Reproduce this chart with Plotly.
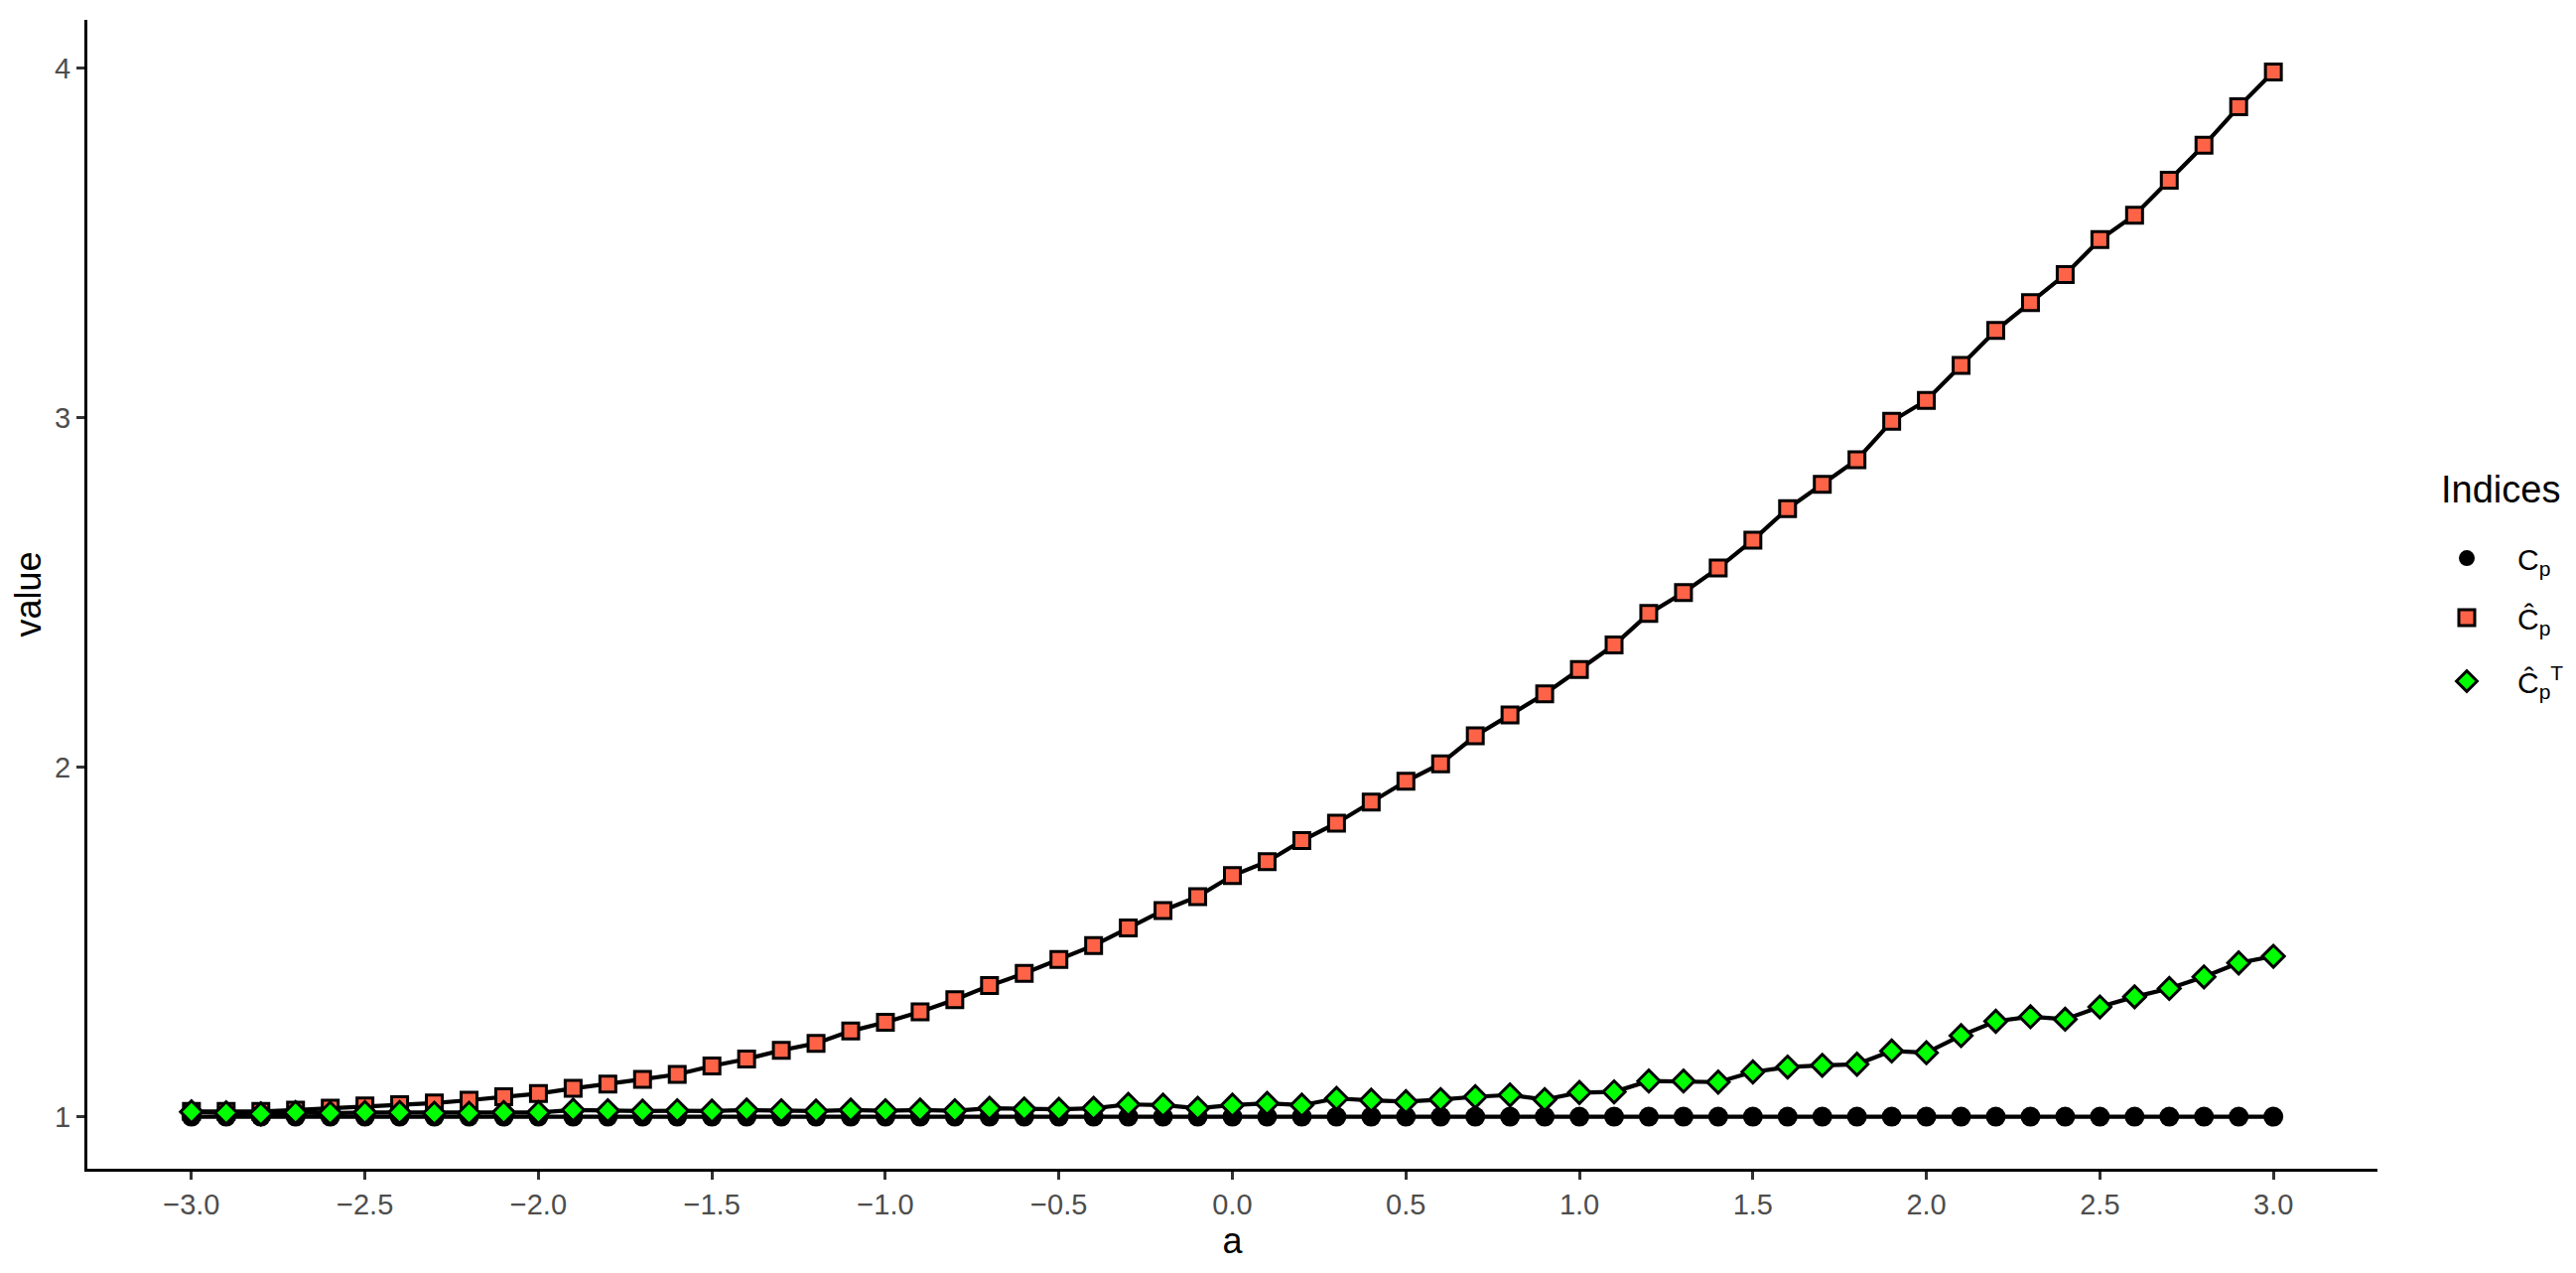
import plotly.graph_objects as go

a_vals = [-3.0, -2.9, -2.8, -2.7, -2.6, -2.5, -2.4, -2.3, -2.2, -2.1,
          -2.0, -1.9, -1.8, -1.7, -1.6, -1.5, -1.4, -1.3, -1.2, -1.1,
          -1.0, -0.9, -0.8, -0.7, -0.6, -0.5, -0.4, -0.3, -0.2, -0.1,
          0.0, 0.1, 0.2, 0.3, 0.4, 0.5, 0.6, 0.7, 0.8, 0.9,
          1.0, 1.1, 1.2, 1.3, 1.4, 1.5, 1.6, 1.7, 1.8, 1.9,
          2.0, 2.1, 2.2, 2.3, 2.4, 2.5, 2.6, 2.7, 2.8, 2.9, 3.0]

cp = [1.0, 1.0, 1.0, 1.0, 1.0, 1.0, 1.0, 1.0, 1.0, 1.0,
      1.0, 1.0, 1.0, 1.0, 1.0, 1.0, 1.0, 1.0, 1.0, 1.0,
      1.0, 1.0, 1.0, 1.0, 1.0, 1.0, 1.0, 1.0, 1.0, 1.0,
      1.0, 1.0, 1.0, 1.0, 1.0, 1.0, 1.0, 1.0, 1.0, 1.0,
      1.0, 1.0, 1.0, 1.0, 1.0, 1.0, 1.0, 1.0, 1.0, 1.0,
      1.0, 1.0, 1.0, 1.0, 1.0, 1.0, 1.0, 1.0, 1.0, 1.0, 1.0]

cp_hat = [1.015, 1.015, 1.015, 1.019, 1.024, 1.031, 1.034, 1.039, 1.047, 1.057,
          1.066, 1.081, 1.093, 1.107, 1.121, 1.145, 1.165, 1.19, 1.21, 1.245,
          1.27, 1.30, 1.335, 1.375, 1.41, 1.45, 1.49, 1.54, 1.59, 1.63,
          1.69, 1.73, 1.79, 1.84, 1.90, 1.96, 2.01, 2.09, 2.15, 2.21,
          2.28, 2.35, 2.44, 2.50, 2.57, 2.65, 2.74, 2.81, 2.88, 2.99,
          3.05, 3.15, 3.25, 3.33, 3.41, 3.51, 3.58, 3.68, 3.78, 3.89, 3.99]

cp_hat_t = [1.014, 1.011, 1.008, 1.012, 1.010, 1.012, 1.012, 1.010, 1.010, 1.012,
            1.012, 1.019, 1.017, 1.016, 1.017, 1.016, 1.019, 1.017, 1.016, 1.019,
            1.017, 1.019, 1.017, 1.024, 1.022, 1.021, 1.024, 1.035, 1.033, 1.024,
            1.033, 1.038, 1.033, 1.052, 1.047, 1.043, 1.049, 1.057, 1.062, 1.049,
            1.069, 1.071, 1.102, 1.102, 1.099, 1.128, 1.142, 1.147, 1.150, 1.188,
            1.183, 1.232, 1.273, 1.286, 1.279, 1.314, 1.343, 1.367, 1.400, 1.440, 1.459]

x_ticks = [-3.0, -2.5, -2.0, -1.5, -1.0, -0.5, 0.0, 0.5, 1.0, 1.5, 2.0, 2.5, 3.0]
y_ticks = [1, 2, 3, 4]

legend_names = ["legend", "legend2", "legend3"]
legend_y = [0.5315, 0.4797, 0.4244]

series = [
    ("C<sub>p</sub>", cp, "circle", "#000000", 20, 0),
    ("Ĉ<sub>p</sub>", cp_hat, "square", "#FF6347", 16, 3),
    ("Ĉ<sub>p</sub><sup>T</sup>", cp_hat_t, "diamond", "#00FF00", 17, 3),
]

fig = go.Figure()

# lines first (all groups), then points, like ggplot layering
for name, vals, sym, col, sz, lw in series:
    fig.add_trace(go.Scatter(x=a_vals, y=vals, mode="lines",
                             line=dict(color="black", width=4.2),
                             showlegend=False, hoverinfo="skip"))
for (name, vals, sym, col, sz, lw), lg in zip(series, legend_names):
    fig.add_trace(go.Scatter(x=a_vals, y=vals, mode="markers", name=name,
                             legend=lg,
                             marker=dict(symbol=sym, color=col, size=sz,
                                         line=dict(color="black", width=lw))))

font_family = "Liberation Sans, Arial, sans-serif"
legend_common = dict(font=dict(size=30, color="black"), x=1.0169, xanchor="left",
                     yanchor="middle", bgcolor="rgba(0,0,0,0)", itemwidth=92)
fig.update_layout(
    width=2587, height=1274,
    margin=dict(l=80, r=200, t=12, b=105, autoexpand=False),
    paper_bgcolor="white", plot_bgcolor="white",
    font=dict(family=font_family, color="black", size=29),
    legend=dict(y=legend_y[0], **legend_common),
    legend2=dict(y=legend_y[1], **legend_common),
    legend3=dict(y=legend_y[2], **legend_common),
    annotations=[dict(text="Indices", x=1.0269, y=0.591, xref="paper", yref="paper",
                      xanchor="left", yanchor="middle", showarrow=False,
                      font=dict(size=38, color="black"))],
    xaxis=dict(
        range=[-3.3, 3.3], tickvals=x_ticks, tickformat=".1f",
        showline=True, linecolor="black", linewidth=3,
        ticks="outside", ticklen=8, tickwidth=3, tickcolor="#333333",
        tickfont=dict(size=29, color="#4D4D4D"),
        showgrid=False, zeroline=False, mirror=False, automargin=False,
        title=dict(text="a", font=dict(size=36, color="black"), standoff=10),
    ),
    yaxis=dict(
        range=[0.851, 4.139], tickvals=y_ticks,
        showline=True, linecolor="black", linewidth=3,
        ticks="outside", ticklen=8, tickwidth=3, tickcolor="#333333",
        tickfont=dict(size=29, color="#4D4D4D"),
        showgrid=False, zeroline=False, mirror=False, automargin=False,
        title=dict(text="value", font=dict(size=36, color="black"), standoff=14),
    ),
)

fig.write_html("out.html")
